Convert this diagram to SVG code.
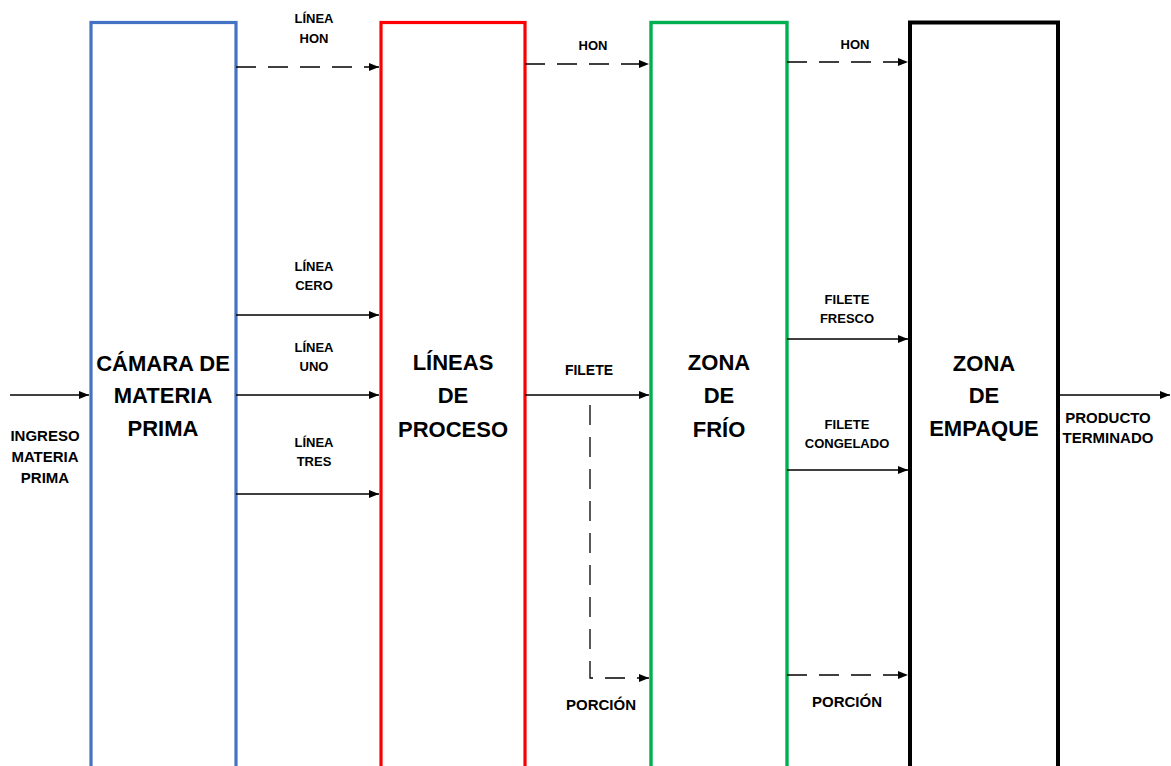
<svg xmlns="http://www.w3.org/2000/svg" width="1171" height="766" viewBox="0 0 1171 766">
<style>
.box{fill:none;}
.t{font-family:"Liberation Sans",Arial,sans-serif;font-weight:bold;fill:#000;text-anchor:middle;}
.big{font-size:22px;}
.sm{font-size:13px;}
.md{font-size:15px;}
.ln{stroke:#000;stroke-width:1.3;fill:none;marker-end:url(#ah);}
.dash{stroke-dasharray:20 12;}
</style>
<defs>
<marker id="ah" markerUnits="userSpaceOnUse" markerWidth="11" markerHeight="9" refX="10" refY="4" orient="auto">
<path d="M0,0 L10,4 L0,8 z" fill="#000"/>
</marker>
</defs>
<rect width="1171" height="766" fill="#fff"/>
<g id="camara">
<rect class="box" x="91" y="22.5" width="145" height="800" stroke="#4472C4" stroke-width="3.2"/>
<text class="t big" x="163" y="371">CÁMARA DE</text>
<text class="t big" x="163" y="403">MATERIA</text>
<text class="t big" x="163" y="436">PRIMA</text>
</g>
<g id="lineas">
<rect class="box" x="381" y="22.5" width="144" height="800" stroke="#FF0000" stroke-width="3.2"/>
<text class="t big" x="453" y="370">LÍNEAS</text>
<text class="t big" x="453" y="403">DE</text>
<text class="t big" x="453" y="437">PROCESO</text>
</g>
<g id="frio">
<rect class="box" x="651" y="22.5" width="136" height="800" stroke="#00B050" stroke-width="3.4"/>
<text class="t big" x="719" y="370">ZONA</text>
<text class="t big" x="719" y="403">DE</text>
<text class="t big" x="719" y="437">FRÍO</text>
</g>
<g id="empaque">
<rect class="box" x="910" y="22.5" width="148" height="800" stroke="#000" stroke-width="4"/>
<text class="t big" x="984" y="371">ZONA</text>
<text class="t big" x="984" y="403">DE</text>
<text class="t big" x="984" y="436">EMPAQUE</text>
</g>
<g id="connectors">
<line class="ln" x1="10" y1="395" x2="89" y2="395"/>
<line class="ln dash" x1="236" y1="67" x2="379" y2="67"/>
<line class="ln" x1="236" y1="315" x2="379" y2="315"/>
<line class="ln" x1="236" y1="395" x2="379" y2="395"/>
<line class="ln" x1="236" y1="494" x2="379" y2="494"/>
<line class="ln dash" x1="525" y1="64" x2="649" y2="64"/>
<line class="ln" x1="525" y1="395" x2="649" y2="395"/>
<path class="ln dash" d="M590,405 L590,678 L649,678"/>
<line class="ln dash" x1="787" y1="62" x2="908" y2="62"/>
<line class="ln" x1="787" y1="339" x2="908" y2="339"/>
<line class="ln" x1="787" y1="470" x2="908" y2="470"/>
<line class="ln dash" x1="787" y1="675" x2="908" y2="675"/>
<line class="ln" x1="1058" y1="395" x2="1170" y2="395"/>
</g>
<g id="labels">
<text class="t md" x="45" y="441">INGRESO</text>
<text class="t md" x="45" y="462">MATERIA</text>
<text class="t md" x="45" y="483">PRIMA</text>
<text class="t sm" x="314" y="23">LÍNEA</text>
<text class="t sm" x="314" y="43">HON</text>
<text class="t sm" x="314" y="271">LÍNEA</text>
<text class="t sm" x="314" y="290">CERO</text>
<text class="t sm" x="314" y="352">LÍNEA</text>
<text class="t sm" x="314" y="371">UNO</text>
<text class="t sm" x="314" y="447">LÍNEA</text>
<text class="t sm" x="314" y="466">TRES</text>
<text class="t sm" x="593" y="50">HON</text>
<text class="t" style="font-size:14px" x="589" y="375">FILETE</text>
<text class="t md" x="601" y="710">PORCIÓN</text>
<text class="t sm" x="855" y="49">HON</text>
<text class="t sm" x="847" y="304">FILETE</text>
<text class="t sm" x="847" y="323">FRESCO</text>
<text class="t sm" x="847" y="429">FILETE</text>
<text class="t sm" x="847" y="448">CONGELADO</text>
<text class="t md" x="847" y="707">PORCIÓN</text>
<text class="t md" x="1108" y="423">PRODUCTO</text>
<text class="t md" x="1108" y="443">TERMINADO</text>
</g>
</svg>
